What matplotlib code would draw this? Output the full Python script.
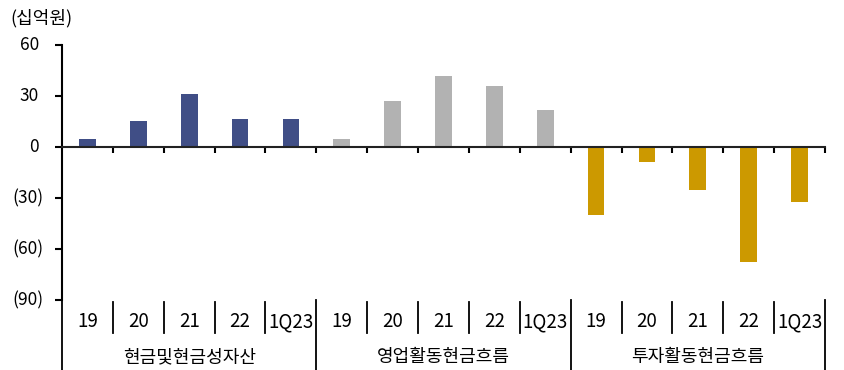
import numpy as np
import matplotlib
matplotlib.use("Agg")
import matplotlib.pyplot as plt
import matplotlib.transforms as mtransforms

plt.rcParams['font.family'] = ['Noto Sans CJK KR', 'DejaVu Sans']

# data (십억원)
groups = ["현금및현금성자산", "영업활동현금흐름", "투자활동현금흐름"]
periods = ["19", "20", "21", "22", "1Q23"]
cash = [4.5, 15.1, 31.0, 16.3, 16.3]
operating = [4.5, 27.2, 42.0, 35.7, 21.6]
investing = [-39.9, -9.1, -25.3, -67.7, -32.2]
colors = ["#404E86", "#B2B2B2", "#CC9900"]

yticks = [-90, -60, -30, 0, 30, 60]
ytick_labels = ["(90)", "(60)", "(30)", "0", "30", "60"]

fig = plt.figure(figsize=(8.45, 3.70), dpi=100)
ax = fig.add_axes([62/845, 70/370, 763/845, 255/370])

series = [cash, operating, investing]
n = len(periods)
for g, vals in enumerate(series):
    x = np.arange(n) + g*n
    ax.bar(x, vals, width=0.33, color=colors[g], zorder=2)

ax.set_xlim(-0.5, 3*n - 0.5)
ax.set_ylim(-90, 60)
ax.set_yticks(yticks)
ax.tick_params(axis='y', direction='out', length=5, width=1.5, labelleft=False)

# y tick labels, excel style: positives leave room for ")"
ytrans = mtransforms.blended_transform_factory(fig.transFigure, ax.transData)
for v, lab in zip(yticks, ytick_labels):
    xr = 44/845 if v < 0 else 39/845
    ax.text(xr, v, lab, transform=ytrans, ha='right', va='center',
            fontsize=12.5, clip_on=False)

for s in ['top', 'right']:
    ax.spines[s].set_visible(False)
ax.spines['left'].set_linewidth(1.5)
ax.spines['bottom'].set_position(('data', 0))
ax.spines['bottom'].set_linewidth(1.5)
ax.spines['bottom'].set_color('#222222')
ax.spines['bottom'].set_zorder(3)
bounds = np.arange(0.5, 3*n, 1.0)
ax.set_xticks(bounds)
ax.tick_params(axis='x', direction='out', length=4, width=1.5, labelbottom=False)

# category labels below the plot
trans = mtransforms.blended_transform_factory(ax.transData, fig.transFigure)
y_top = 70/370
for i in range(3*n):
    ax.text(i, 0.13, periods[i % n], transform=trans, ha='center', va='center',
            fontsize=13.5, clip_on=False)
for b in np.arange(-0.5, 3*n, 1.0):
    idx = int(round(b + 0.5))
    if idx % n == 0:
        ax.plot([b, b], [y_top, 0], transform=trans, color='black', lw=1.3, clip_on=False)
    else:
        ax.plot([b, b], [y_top - 0.005, 0.1], transform=trans, color='black', lw=1.3, clip_on=False)
for g, name in enumerate(groups):
    ax.text(g*n + (n - 1)/2, 0.035, name, transform=trans, ha='center', va='center',
            fontsize=13, clip_on=False)

fig.text(10/845, 1 - 18/370, "(십억원)", ha='left', va='center', fontsize=13)

fig.savefig("out.png", dpi=100)
